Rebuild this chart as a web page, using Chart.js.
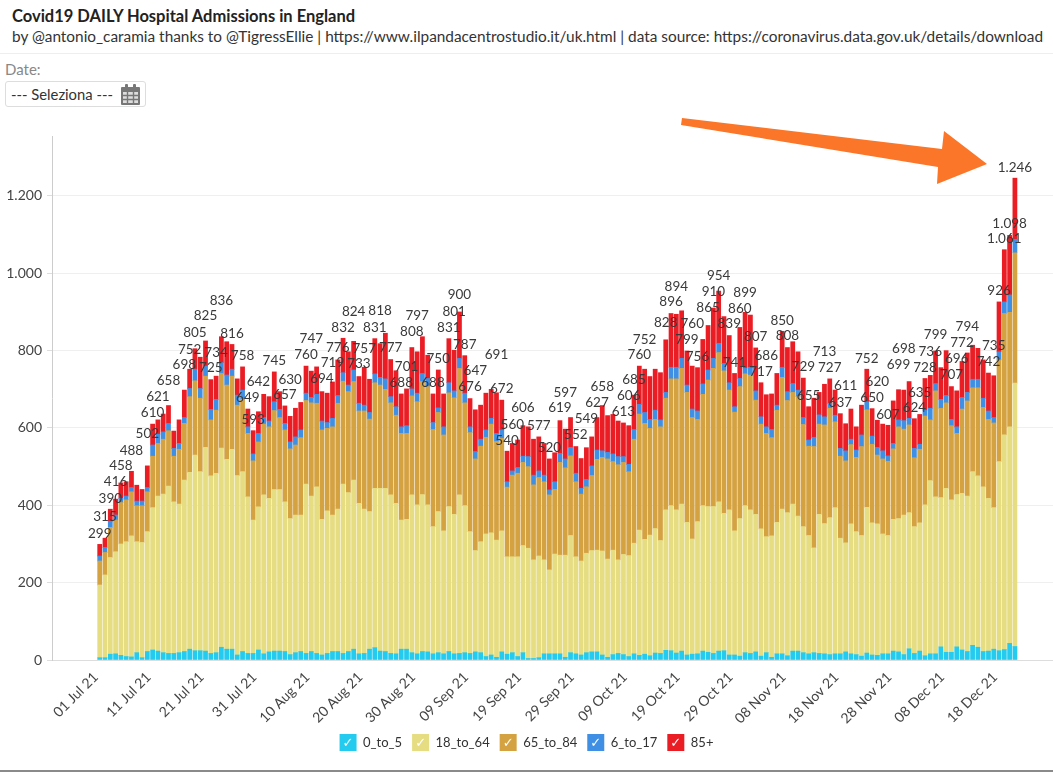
<!DOCTYPE html>
<html>
<head>
<meta charset="utf-8">
<title>Covid19 DAILY Hospital Admissions in England</title>
<script src="https://cdn.jsdelivr.net/npm/chart.js@4"></script>
<style>
  html, body { margin: 0; padding: 0; background: #fff; }
  body { width: 1053px; height: 772px; overflow: hidden; position: relative; font-family: Lato, sans-serif; }
  #title { position: absolute; left: 12px; top: 6px; font-size: 16.5px; font-weight: 700; color: #222; white-space: nowrap; }
  #subtitle { position: absolute; left: 12px; top: 27px; font-size: 15.38px; color: #333; white-space: nowrap; }
  #divider { position: absolute; left: 0; top: 53px; width: 1053px; height: 1px; background: #eee; }
  #dateLabel { position: absolute; left: 5px; top: 60px; font-size: 15px; color: #888; }
  #dateBox { position: absolute; left: 5px; top: 81px; height: 24px; border: 1px solid #ddd; border-radius: 3px; font-size: 14.8px; color: #333; line-height: 24px; padding-left: 5px; box-sizing: content-box; width: 134px; }
  #dateBox svg { position: absolute; left: 115px; top: 2px; }
  #arrow { position: absolute; left: 0; top: 0; }
  #bottomLine { position: absolute; left: 0; top: 770px; width: 1053px; height: 2px; background: #8a8a8a; }
  canvas { position: absolute; left: 0; top: 0; }
</style>
</head>
<body>
<div id="title">Covid19 DAILY Hospital Admissions in England</div>
<div id="subtitle">by @antonio_caramia thanks to @TigressEllie | https://www.ilpandacentrostudio.it/uk.html | data source: https://coronavirus.data.gov.uk/details/download</div>
<div id="divider"></div>
<div id="dateLabel">Date:</div>
<div id="dateBox">--- Seleziona ---
  <svg width="19" height="21" viewBox="0 0 19 21">
    <rect x="0" y="3" width="19" height="18" rx="1" fill="#777"/>
    <rect x="4" y="0" width="3" height="5" rx="1" fill="#777"/>
    <rect x="12" y="0" width="3" height="5" rx="1" fill="#777"/>
    <path d="M2 8h15v11H2z" fill="#ddd"/>
    <path d="M2 11.5h15M2 15.5h15M6.5 8v11M12.5 8v11" stroke="#777" stroke-width="1.4"/>
  </svg>
</div>
<canvas id="myChart" width="1053" height="772"></canvas>
<svg id="arrow" width="1053" height="772">
  <polygon points="682,118 942,149 944,131 987,164 937,184 938,167 681,125" fill="#fb7628"/>
</svg>
<div id="bottomLine"></div>

<script>
// dal 01 Jul 21, un valore al giorno
const age0to5 = [
  6,6,15,16,12,9,8,19,6,22,
  26,23,19,17,17,19,22,28,24,24,
  23,17,19,33,28,28,13,22,17,17,
  26,16,21,23,23,22,14,19,22,17,
  22,17,13,17,22,22,17,22,28,16,
  17,28,32,23,22,17,16,28,28,19,
  16,22,21,16,19,16,22,16,17,19,
  17,21,19,9,13,7,21,15,19,9,
  19,4,4,6,16,16,16,16,7,19,
  16,13,19,21,21,13,7,14,17,14,
  9,16,12,15,11,18,17,25,24,18,
  23,13,15,16,23,20,17,23,24,13,
  13,10,19,17,21,10,19,7,16,16,
  11,23,23,19,16,19,17,16,14,16,
  16,21,16,14,10,18,13,12,16,16,
  23,21,14,29,17,23,11,16,16,34,
  20,20,34,26,22,38,33,22,23,28,
  24,27,43,35
];
const age18to64 = [
  188,214,250,264,288,297,313,287,298,310,
  368,401,410,433,392,384,443,457,506,463,
  527,459,464,515,491,517,464,465,405,345,
  370,411,397,418,418,387,352,356,353,438,
  402,431,351,369,353,368,438,411,437,389,
  373,356,412,421,422,410,389,334,336,408,
  385,406,380,329,365,318,375,361,410,380,
  315,262,287,317,316,303,313,252,248,258,
  277,285,255,263,243,217,258,255,264,303,
  251,243,257,262,263,269,254,270,242,259,
  261,286,324,297,312,322,292,363,375,370,
  380,343,298,342,376,377,380,386,355,375,
  321,356,380,371,356,329,300,314,340,374,
  370,380,349,326,306,271,360,337,354,378,
  299,282,336,318,312,377,342,340,310,306,
  341,345,361,352,328,332,390,448,406,386,
  424,394,394,405,402,449,443,426,395,366,
  489,555,560,681
];
const age65to84 = [
  62,58,78,82,107,108,114,93,95,103,
  133,136,142,143,118,142,147,196,192,190,
  184,145,163,193,192,189,182,187,164,153,
  168,183,185,204,186,186,180,181,200,216,
  241,216,231,213,228,274,266,261,255,239,
  254,239,273,267,256,238,228,224,222,256,
  267,292,306,251,256,248,294,301,327,266,
  256,237,247,250,281,255,239,180,211,216,
  215,211,194,203,202,194,167,240,226,206,
  194,173,172,194,235,242,259,229,246,238,
  217,269,300,300,276,282,294,289,328,339,
  351,336,314,264,288,327,357,386,369,310,
  307,341,341,349,295,271,267,254,290,341,
  290,289,309,264,231,262,233,255,283,222,
  212,212,205,192,230,252,203,178,194,192,
  182,237,222,227,178,190,230,157,274,231,
  221,192,158,218,246,217,228,205,204,219,
  263,314,296,337
];
const age6to17 = [
  13,13,16,13,11,10,11,12,12,11,
  29,24,19,19,20,15,15,21,30,25,
  26,27,28,28,26,18,26,24,17,18,
  22,17,15,23,21,17,18,21,20,19,
  14,23,23,15,22,20,22,17,30,20,
  15,17,23,20,27,16,22,17,20,18,
  22,21,21,18,12,21,26,18,26,25,
  15,19,18,19,15,21,22,14,11,15,
  16,26,25,17,17,13,20,23,23,22,
  22,15,19,25,24,17,17,20,21,15,
  19,25,25,28,23,24,18,15,30,30,
  26,19,22,22,27,26,26,24,19,19,
  14,21,15,20,24,19,17,21,13,26,
  23,23,17,18,16,24,24,21,13,17,
  20,26,14,19,30,21,21,20,21,14,
  14,18,22,17,24,13,15,30,19,23,
  19,16,17,30,22,22,22,24,22,14,
  21,30,45,35
];
const age85 = [
  30,24,31,41,40,37,42,41,30,56,
  54,37,46,46,45,61,71,50,53,81,
  65,77,60,67,86,64,42,60,46,60,
  56,60,63,77,46,45,66,74,71,70,
  68,71,76,76,94,92,89,86,74,69,
  98,86,91,87,118,96,93,85,95,107,
  107,95,60,74,98,85,114,105,120,97,
  73,108,88,95,75,105,77,79,71,71,
  79,77,93,88,82,80,75,85,77,77,
  69,77,82,75,84,117,95,102,92,87,
  100,89,99,112,111,106,122,136,139,137,
  123,88,111,112,115,115,130,135,121,122,
  86,132,144,135,111,88,83,92,82,93,
  114,108,99,102,86,101,58,84,63,65,
  90,70,78,60,77,84,71,70,69,79,
  110,78,79,95,77,77,82,85,84,82,
  116,85,93,93,102,88,80,99,98,108,
  129,135,154,158
];

const tickLabels = ['01 Jul 21','11 Jul 21','21 Jul 21','31 Jul 21','10 Aug 21','20 Aug 21','30 Aug 21','09 Sep 21','19 Sep 21','29 Sep 21','09 Oct 21','19 Oct 21','29 Oct 21','08 Nov 21','18 Nov 21','28 Nov 21','08 Dec 21','18 Dec 21'];

// quali barre hanno l'etichetta del totale, e quanti px sopra la barra
const labelLift = {
  0:11,1:22,2:11,3:17,4:17,6:21,9:32,10:11,11:23,13:25,16:25,17:20,18:16,20:25,21:12,22:24,23:36,25:11,27:11,28:11,29:11,30:30,33:11,35:11,36:37,39:11,
  40:32,42:13,44:19,45:12,46:11,48:30,49:13,50:19,52:11,53:33,55:12,57:11,58:22,59:16,60:36,63:11,64:11,66:11,67:39,68:17,69:11,70:12,71:39,75:38,76:11,
  77:11,78:19,80:18,83:11,85:11,87:13,88:36,90:12,92:29,94:15,95:19,99:11,100:30,101:15,102:11,103:30,107:17,108:12,109:28,111:11,112:42,113:11,115:18,
  116:16,117:15,119:12,120:11,121:19,122:20,124:11,125:11,126:39,129:11,130:12,133:11,134:11,137:33,138:11,140:11,141:38,145:11,146:11,147:39,149:11,
  151:25,152:41,154:11,155:22,156:11,157:24,158:16,161:12,162:32,163:19,164:26,168:11,169:30,170:11,171:11,172:12,173:11
};

function numIt(v) {
  return String(v).replace(/\B(?=(\d{3})+$)/g, '.');
}

function punti(valori) {
  return valori.map((v, i) => ({ x: i, y: v }));
}

const etichetteTotali = {
  id: 'etichetteTotali',
  afterDatasetsDraw(chart) {
    const c = chart.ctx;
    c.save();
    c.font = '13.5px Lato';
    c.fillStyle = '#3a3a3a';
    c.textAlign = 'center';
    c.textBaseline = 'middle';
    Object.keys(labelLift).forEach(k => {
      const i = Number(k);
      const tot = age0to5[i] + age18to64[i] + age65to84[i] + age6to17[i] + age85[i];
      const x = chart.scales.x.getPixelForValue(i);
      const y = chart.scales.y.getPixelForValue(tot);
      c.fillText(numIt(tot), x, y - labelLift[k]);
    });
    c.restore();
  }
};

// spunta bianca dentro i quadratini della legenda
const spunteLegenda = {
  id: 'spunteLegenda',
  afterDraw(chart) {
    const c = chart.ctx;
    c.save();
    c.font = '13px "DejaVu Sans"';
    c.fillStyle = '#fff';
    c.textAlign = 'center';
    c.textBaseline = 'middle';
    chart.legend.legendHitBoxes.forEach(b => {
      c.fillText('\u2713', b.left + 8.5, b.top + b.height / 2 + 1);
    });
    c.restore();
  }
};

const ctx = document.getElementById('myChart');

new Chart(ctx, {
  type: 'bar',
  data: {
    datasets: [
      { label: '0_to_5', data: punti(age0to5), backgroundColor: '#25cbee', barThickness: 4.1 },
      { label: '18_to_64', data: punti(age18to64), backgroundColor: '#e6dd82', barThickness: 4.1 },
      { label: '65_to_84', data: punti(age65to84), backgroundColor: '#d5a242', barThickness: 4.1 },
      { label: '6_to_17', data: punti(age6to17), backgroundColor: '#3f8fe4', barThickness: 4.1 },
      { label: '85+', data: punti(age85), backgroundColor: '#ea1c24', barThickness: 4.1 }
    ]
  },
  options: {
    responsive: false,
    animation: false,
    layout: { padding: { top: 136, bottom: 11, left: 0, right: 0 } },
    plugins: {
      tooltip: { enabled: false },
      legend: {
        position: 'bottom',
        onClick: null,
        labels: {
          boxWidth: 17,
          boxHeight: 17,
          padding: 10,
          color: '#333',
          font: { family: 'Lato', size: 13 }
        }
      }
    },
    scales: {
      x: {
        type: 'linear',
        stacked: true,
        offset: false,
        min: -9.02,
        max: 180.2,
        grid: { display: false },
        border: { color: '#ddd' },
        afterFit(scale) {
          scale.height = 64;
          scale.paddingLeft = 0;
          scale.paddingRight = 0;
        },
        ticks: {
          stepSize: 10,
          autoSkip: false,
          includeBounds: false,
          minRotation: 45,
          maxRotation: 45,
          padding: 1,
          labelOffset: -4,
          color: '#444',
          font: { family: 'Lato', size: 14 },
          callback(v) {
            return v >= 0 && v % 10 === 0 ? (tickLabels[v / 10] || '') : '';
          }
        }
      },
      y: {
        stacked: true,
        min: 0,
        max: 1355,
        grid: { color: '#efefef', tickColor: '#ddd', tickLength: 5 },
        border: { color: '#ccc' },
        afterFit(scale) { scale.width = 52; },
        ticks: {
          stepSize: 200,
          includeBounds: false,
          padding: 5,
          color: '#444',
          font: { family: 'Lato', size: 14 },
          callback(v) { return numIt(v); }
        }
      }
    }
  },
  plugins: [etichetteTotali, spunteLegenda]
});
</script>
</body>
</html>
